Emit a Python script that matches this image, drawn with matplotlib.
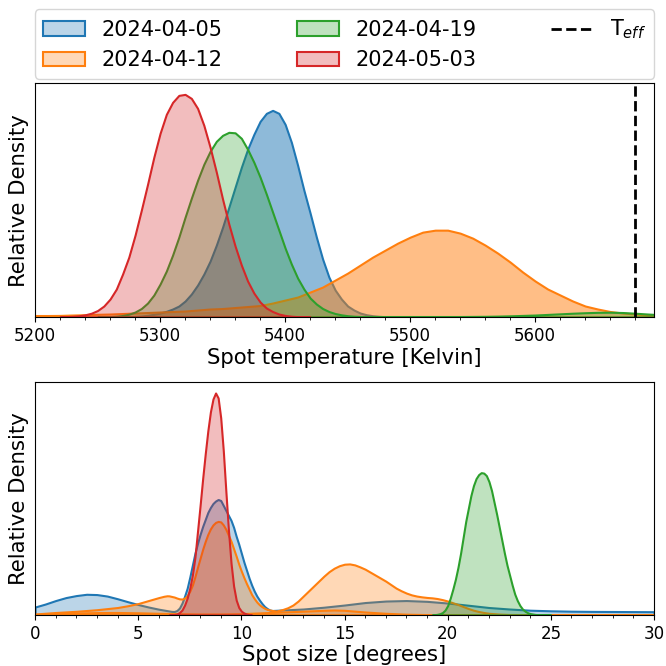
import matplotlib.pyplot as plt
import numpy as np
from matplotlib.colors import to_rgba
from matplotlib.patches import Patch
from matplotlib.lines import Line2D
from matplotlib.ticker import AutoMinorLocator

dates = ['2024-04-05', '2024-04-12', '2024-04-19', '2024-05-03']
colors = ['tab:blue', 'tab:orange', 'tab:green', 'tab:red']
t_eff = 5680

# --- spot temperature densities ---
temp_blue_x = np.arange(5270, 5491, 5)
temp_blue_y = [0, 0.3, 0.6, 1, 1.7, 2.7, 4, 5.7, 8, 11,
               16, 23, 32, 43, 56, 72, 90, 110, 130, 150,
               168, 183, 196, 204, 207, 204, 193, 175, 152, 127,
               104, 80, 58, 40, 27, 18, 11, 7, 4, 2.3,
               1.3, 0.7, 0.3, 0.1, 0]

temp_orange_x = np.arange(5200, 5701, 10)
temp_orange_y = [1.5, 1.5, 1.6, 2, 2.3, 2.7, 3, 3.5, 4, 4.5,
                 5, 5.5, 6, 7, 8, 8.5, 9.5, 10.5, 11.5, 14,
                 17, 20, 25, 30, 37, 44, 52, 60, 67, 74,
                 80, 85, 87, 87, 84, 79, 72, 64, 55, 45,
                 36, 28, 22, 16, 11, 8, 5.5, 4, 3, 2, 1.5]

temp_green_x = np.concatenate([np.arange(5250, 5461, 5), np.arange(5470, 5701, 10)])
temp_green_y = [0, 0.2, 0.4, 0.8, 1.5, 2.8, 5, 8.5, 14, 22,
                33, 46, 62, 80, 100, 119, 137, 153, 166, 176,
                182, 185, 184.5, 179, 168, 155, 140, 123, 105, 87,
                69, 53, 39, 28, 19, 13, 8.5, 5.5, 3.5, 2.2,
                1.3, 0.8, 0.5,
                0.5, 0.5, 0.5, 0.5, 0.5, 0.5, 0.5, 0.5, 0.6, 0.7,
                0.9, 1.2, 1.6, 2, 2.6, 3.2, 3.8, 4.3, 4.7, 4.8,
                4.5, 3.8, 3, 2.3]

temp_red_x = np.arange(5220, 5421, 5)
temp_red_y = [0.2, 0.4, 0.7, 1.2, 2.2, 3.8, 6.5, 11, 18, 28,
              43, 60, 82, 107, 133, 160, 184, 203, 215, 222,
              223, 219, 209, 192, 170, 145, 118, 93, 71, 52,
              36, 24, 15, 9, 5.5, 3, 1.6, 0.8, 0.4, 0.2, 0]

# --- spot size densities ---
size_blue_x = [0, 0.5, 1, 1.5, 2, 2.5, 3, 3.5, 4, 4.5, 5, 5.5, 6,
               6.5, 6.625, 6.75, 6.875, 7, 7.125, 7.25, 7.375, 7.5, 7.625, 7.75, 7.875,
               8, 8.125, 8.25, 8.375, 8.5, 8.625, 8.75, 8.875, 9, 9.125, 9.25, 9.375,
               9.5, 9.625, 9.75, 9.875, 10, 10.125, 10.25, 10.375, 10.5, 10.625, 10.75,
               10.875, 11, 11.125, 11.25, 11.375, 11.5,
               12, 13, 14, 15, 16, 17, 18, 19, 20, 21, 22, 23, 24, 25, 26, 27, 28, 29, 30]
size_blue_y = [8, 11, 14.5, 17.5, 19.5, 20.8, 20.5, 19, 16.3, 13.3, 10.5, 8, 5.8,
               4, 3.6, 3.5, 4.5, 7, 12, 19, 27, 38, 50, 62, 72,
               81, 89, 96, 103, 108, 112, 114.5, 116, 115, 110, 105, 100,
               95, 88, 79, 71, 62, 53, 45, 37, 30, 24, 19,
               15, 11.5, 8.5, 6.5, 5, 4.5,
               5, 6, 7.8, 10, 12.5, 14, 14.5, 13.7, 12, 9.8, 7.5, 6, 4.8, 4.2, 3.8, 3.6, 3.5, 3.4, 3.3]

size_orange_x = [0, 1, 2, 3, 4, 4.5, 5, 5.5, 6, 6.25, 6.4, 6.5, 6.75,
                 6.875, 7, 7.125, 7.25, 7.375, 7.5, 7.625, 7.75, 7.875, 8, 8.125, 8.25,
                 8.375, 8.5, 8.625, 8.75, 8.875, 9, 9.125, 9.25, 9.375, 9.5, 9.625, 9.75,
                 9.875, 10, 10.125, 10.25, 10.375, 10.5, 10.625, 10.75, 10.875, 11, 11.125,
                 11.25, 11.5, 11.7,
                 12, 12.25, 12.5, 12.75, 13, 13.25, 13.5, 13.75, 14, 14.25, 14.5, 14.75,
                 15, 15.25, 15.5, 15.75, 16, 16.25, 16.5, 16.75, 17, 17.25, 17.5, 17.75,
                 18, 18.25, 18.5, 18.75, 19, 19.25, 19.5, 19.75, 20, 20.25, 20.5, 20.75,
                 21, 21.25, 21.5, 21.75, 22, 22.5, 23, 25, 30]
size_orange_y = [1, 2.5, 3.7, 5.3, 7.5, 9.3, 11.5, 14.5, 17.5, 18.8, 19.3, 19.2, 18,
                 17, 16.2, 16, 17, 19.5, 24, 30, 38.5, 48, 57, 66, 74,
                 81, 86.5, 90.5, 93, 94, 93.5, 90.5, 86, 80, 74, 66.5, 59,
                 51, 44, 37.5, 31.5, 26, 20.5, 16.5, 13, 10.3, 8.3, 6.8,
                 5.6, 4.5, 4,
                 5.5, 7.3, 10, 14, 19, 24, 29, 34, 39, 43.5, 47, 49.5,
                 51, 51.3, 50.3, 48.3, 46, 43, 40, 37, 34, 30.5, 27, 24.3,
                 22, 20.2, 19, 18.2, 17.6, 17.2, 16.5, 15.4, 14, 12.3, 10.5, 8.5,
                 6.5, 4.8, 3.5, 2.5, 1.7, 0.9, 0.5, 0.3, 0.2]

# second, broad 04-12 component
size_orange2_x = [0, 1, 2, 3, 4, 5, 6, 7, 8, 9, 10, 11, 12, 13, 14, 14.5, 15, 16, 17, 18, 19, 20, 22]
size_orange2_y = [0.5, 1.2, 2, 2.4, 2.5, 2.2, 1.7, 1.3, 1, 1, 1.3, 2.2, 3, 3.8, 4.7, 5, 4.7, 3, 1.7,
                  0.8, 0.4, 0.2, 0]

size_green_x = np.concatenate([np.arange(19.25, 24.01, 0.125), [24.25, 24.5, 25]])
size_green_y = [0, 0.3, 0.7, 1.3, 2.5, 5, 9.5, 17, 26, 36,
                48, 62, 78, 94, 107, 120, 130, 137, 141, 143,
                142.5, 140, 134, 125, 113, 101, 88, 75, 62, 50,
                40, 30, 21, 14.5, 9.5, 6, 3.8, 2.3, 1.4,
                0.5, 0.2, 0]

size_red_x = np.arange(6.5, 10.51, 0.125)
size_red_y = [0, 0.2, 0.5, 1, 2.5, 5, 10, 17, 27, 40,
              58, 84, 110, 137, 162, 185, 204, 217, 223, 218,
              198, 165, 124, 85, 52, 29, 15, 7.5, 3.8, 2,
              1, 0.4, 0]


def kde_fill(ax, x, y, c, alpha=0.3):
    ax.fill_between(x, 0, y, facecolor=to_rgba(c, alpha), edgecolor=c, linewidth=1.5)


fig = plt.figure(figsize=(6.66, 6.66), dpi=100)
ax1 = fig.add_axes([0.0526, 0.524, 0.9294, 0.351])
ax2 = fig.add_axes([0.0526, 0.0766, 0.9294, 0.350])

# blue and orange posteriors overlap twice in temperature, hence the denser fill
kde_fill(ax1, temp_blue_x, temp_blue_y, colors[0], 0.5)
kde_fill(ax1, temp_orange_x, temp_orange_y, colors[1], 0.5)
kde_fill(ax1, temp_green_x, temp_green_y, colors[2])
kde_fill(ax1, temp_red_x, temp_red_y, colors[3])
ax1.axvline(t_eff, color='k', linestyle='--', linewidth=2)
ax1.set_xlim(5200, 5695)
ax1.set_ylim(bottom=0)
ax1.set_xlabel('Spot temperature [Kelvin]', fontsize=15.3, labelpad=2)

kde_fill(ax2, size_blue_x, size_blue_y, colors[0])
kde_fill(ax2, size_orange_x, size_orange_y, colors[1])
kde_fill(ax2, size_orange2_x, size_orange2_y, colors[1])
kde_fill(ax2, size_green_x, size_green_y, colors[2])
kde_fill(ax2, size_red_x, size_red_y, colors[3])
ax2.set_xlim(0, 30)
ax2.set_ylim(bottom=0)
ax2.set_xlabel('Spot size [degrees]', fontsize=15.3, labelpad=2)

for ax in (ax1, ax2):
    ax.set_yticks([])
    ax.set_ylabel('Relative Density', fontsize=15.3)
    ax.xaxis.set_minor_locator(AutoMinorLocator())
    ax.tick_params(axis='x', labelsize=12)

handles = [Patch(facecolor=to_rgba(c, 0.3), edgecolor=c, linewidth=1.5) for c in colors]
handles.append(Line2D([], [], color='k', linestyle='--', linewidth=2))
labels = dates + ['T$_{eff}$']
ax1.legend(handles, labels, ncol=3, loc='lower left', bbox_to_anchor=(0, 1.02, 1, 0.2),
           mode='expand', borderaxespad=0, fontsize=15)

fig.savefig('out.png', dpi=100)
